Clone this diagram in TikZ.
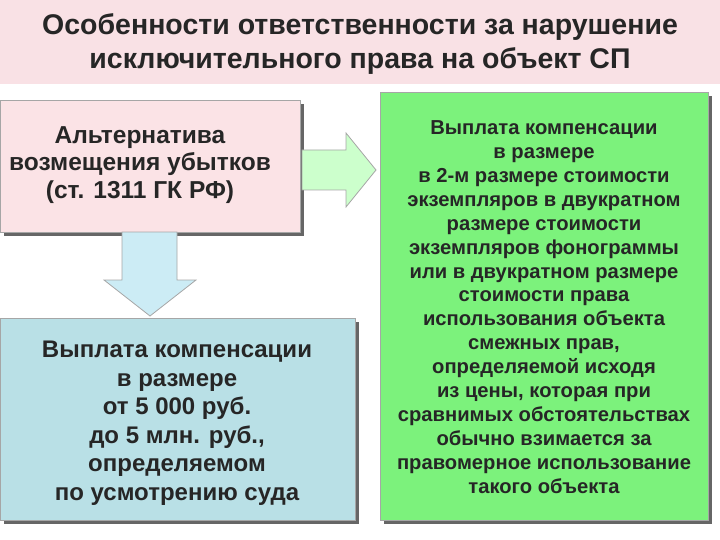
\documentclass[tikz,border=0pt]{standalone}
\usepackage{fontspec}
\setmainfont{Liberation Sans}
\usetikzlibrary{shadows}
\definecolor{titlebg}{HTML}{F9E1E5}
\definecolor{pinkbox}{HTML}{FBE3E6}
\definecolor{bluebox}{HTML}{B9E0E6}
\definecolor{arrowblue}{HTML}{CCECF5}
\definecolor{arrowgreen}{HTML}{CCFFCC}
\definecolor{greenbox}{HTML}{7CF27C}
\begin{document}
\begin{tikzpicture}[x=1pt,y=-1pt,
  box/.style={draw=gray!70,line width=0.8pt,drop shadow={shadow xshift=4pt,shadow yshift=-4pt,fill=black!60,opacity=1}},
  txt/.style={font=\bfseries,align=center,text=black!85}]
\useasboundingbox (0,0) rectangle (720,540);
\fill[titlebg] (0,0) rectangle (720,84);
\node[txt,font=\bfseries\fontsize{28.5}{34}\selectfont] (title) at (360,44) {Особенности ответственности за нарушение\\исключительного права на объект СП};
% left top box
\filldraw[box,fill=pinkbox] (0,100) rectangle (300,232);
\node[txt,font=\bfseries\fontsize{24.5}{27.5}\selectfont] (alt) at (140,165) {Альтернатива\\возмещения убытков\\(ст. 1311 ГК РФ)};
% down arrow
\filldraw[draw=gray!70,fill=arrowblue,line width=0.8pt] (122,232) -- (177,232) -- (177,280) -- (196,280) -- (150,316) -- (104,280) -- (122,280) -- cycle;
% right arrow
\filldraw[draw=gray!70,fill=arrowgreen,line width=0.8pt] (302,150) -- (346,150) -- (346,133) -- (376,170) -- (346,207) -- (346,190) -- (302,190) -- cycle;
% left bottom box
\filldraw[box,fill=bluebox] (0,318) rectangle (355,520);
\node[txt,font=\bfseries\fontsize{24}{28.5}\selectfont] (comp1) at (177,423) {Выплата компенсации\\в размере\\от 5 000 руб.\\до 5 млн. руб.,\\определяемом\\по усмотрению суда};
% right box
\filldraw[box,fill=greenbox] (380,92) rectangle (708,520);
\node[txt,font=\bfseries\fontsize{20.2}{23.9}\selectfont] (comp2) at (544,307) {Выплата компенсации\\в размере\\в 2-м размере стоимости\\экземпляров в двукратном\\размере стоимости\\экземпляров фонограммы\\или в двукратном размере\\стоимости права\\использования объекта\\смежных прав,\\определяемой исходя\\из цены, которая при\\сравнимых обстоятельствах\\обычно взимается за\\правомерное использование\\такого объекта};
\end{tikzpicture}
\end{document}
